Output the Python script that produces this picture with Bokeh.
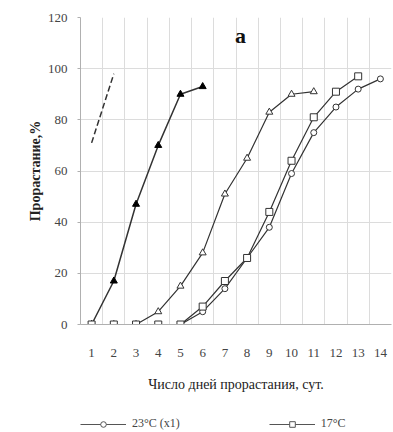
from bokeh.plotting import figure
from bokeh.layouts import column
from bokeh.models import (Range1d, FixedTicker, Legend, LegendItem, Label)
from bokeh.embed import file_html
from bokeh.resources import INLINE

days = list(range(1, 15))
x_ticks = days

# series
tri_fill_x = [1, 2, 3, 4, 5, 6]
tri_fill_y = [0, 17, 47, 70, 90, 93]

tri_open_x = [1, 2, 3, 4, 5, 6, 7, 8, 9, 10, 11]
tri_open_y = [0, 0, 0, 5, 15, 28, 51, 65, 83, 90, 91]

sq_x = [1, 2, 3, 4, 5, 6, 7, 8, 9, 10, 11, 12, 13]
sq_y = [0, 0, 0, 0, 0, 7, 17, 26, 44, 64, 81, 91, 97]

circ_x = [1, 2, 3, 4, 5, 6, 7, 8, 9, 10, 11, 12, 13, 14]
circ_y = [0, 0, 0, 0, 0, 5, 14, 26, 38, 59, 75, 85, 92, 96]

dash_x = [1, 2]
dash_y = [71, 98]

y_ticks = [0, 20, 40, 60, 80, 100, 120]
legend_labels = ["23°C (x1)", "17°C"]

FONT = "Liberation Serif"
LINE = "#333333"

p = figure(width=393, height=400, output_backend="svg", toolbar_location=None,
           x_range=Range1d(0.5, 14.5), y_range=Range1d(0, 120),
           min_border_left=80, min_border_right=2, min_border_top=17,
           min_border_bottom=76,
           background_fill_color="white", border_fill_color="white")
p.outline_line_color = None

p.xaxis.ticker = FixedTicker(ticks=x_ticks)
p.yaxis.ticker = FixedTicker(ticks=y_ticks)
p.xgrid.ticker = FixedTicker(ticks=[d + 0.5 for d in [0] + days])
p.ygrid.ticker = FixedTicker(ticks=y_ticks)
p.xgrid.grid_line_color = "#dcdcdc"
p.ygrid.grid_line_color = "#dcdcdc"
p.xgrid.grid_line_width = 1
p.ygrid.grid_line_width = 1

for ax in (p.xaxis[0], p.yaxis[0]):
    ax.axis_line_color = "#b0b0b0"
    ax.major_tick_line_color = "#b0b0b0"
    ax.minor_tick_line_color = None
    ax.major_label_text_font = FONT
    ax.major_label_text_font_size = "13px"
    ax.major_label_text_color = "#444444"
    ax.axis_label_text_font = FONT
    ax.axis_label_text_color = "#222222"

p.xaxis.major_tick_out = 0
p.xaxis.major_tick_in = 0
p.xaxis.major_label_standoff = 24
p.xaxis.axis_label = "Число дней прорастания, сут."
p.xaxis.axis_label_text_font_size = "14px"
p.xaxis.axis_label_text_font_style = "normal"
p.xaxis.axis_label_standoff = 17

p.yaxis.major_tick_out = 3
p.yaxis.major_tick_in = 0
p.yaxis.major_label_standoff = 10
p.yaxis.axis_label = "Прорастание,%"
p.yaxis.axis_label_text_font_size = "14px"
p.yaxis.axis_label_text_font_style = "bold"
p.yaxis.axis_label_standoff = 2

# dashed line
p.line(dash_x, dash_y, line_color=LINE, line_width=1.5, line_dash="6 3")

# filled triangles
p.line(tri_fill_x, tri_fill_y, line_color=LINE, line_width=1.5)
p.scatter(tri_fill_x, tri_fill_y, marker="triangle", size=7,
          fill_color="black", line_color="black")

# open triangles
p.line(tri_open_x, tri_open_y, line_color=LINE, line_width=1.2)
p.scatter(tri_open_x, tri_open_y, marker="triangle", size=7,
          fill_color="white", line_color=LINE)

# circles
p.line(circ_x, circ_y, line_color=LINE, line_width=1.2)
p.scatter(circ_x, circ_y, marker="circle", size=6,
          fill_color="white", line_color=LINE)

# squares
p.line(sq_x, sq_y, line_color=LINE, line_width=1.2)
p.scatter(sq_x, sq_y, marker="square", size=7,
          fill_color="white", line_color=LINE)

p.add_layout(Label(x=7.7, y=113, text="a", text_font=FONT, text_font_size="22px",
                   text_font_style="bold", text_align="center",
                   text_baseline="middle", text_color="#111111"))

# legend strip below the chart (its series lie outside its ranges, only the legend shows)
p2 = figure(width=393, height=32, output_backend="svg", toolbar_location=None,
            x_range=Range1d(-20, -19), y_range=Range1d(-20, -19),
            x_axis_type=None, y_axis_type=None,
            min_border_left=0, min_border_right=0, min_border_top=0,
            min_border_bottom=0, background_fill_color="white",
            border_fill_color="white")
p2.outline_line_color = None
p2.grid.visible = False

LEG = "#555555"
lc = p2.line(circ_x, circ_y, line_color=LEG, line_width=1.2)
sc = p2.scatter(circ_x, circ_y, marker="circle", size=5,
                fill_color="white", line_color=LEG)
ls = p2.line(sq_x, sq_y, line_color=LEG, line_width=1.2)
ss = p2.scatter(sq_x, sq_y, marker="square", size=6,
                fill_color="white", line_color=LEG)

legend = Legend(items=[LegendItem(label=legend_labels[0], renderers=[lc, sc]),
                       LegendItem(label=legend_labels[1], renderers=[ls, ss])],
                orientation="horizontal", location=(0, 1),
                glyph_width=46, glyph_height=14, label_standoff=6,
                spacing=89, padding=0, margin=0,
                label_text_font=FONT, label_text_font_size="12px",
                label_text_color="#444444",
                border_line_color=None, background_fill_alpha=0)
p2.add_layout(legend, "center")

layout = column(p, p2, spacing=0)

open("out.html", "w").write(file_html(layout, INLINE))
